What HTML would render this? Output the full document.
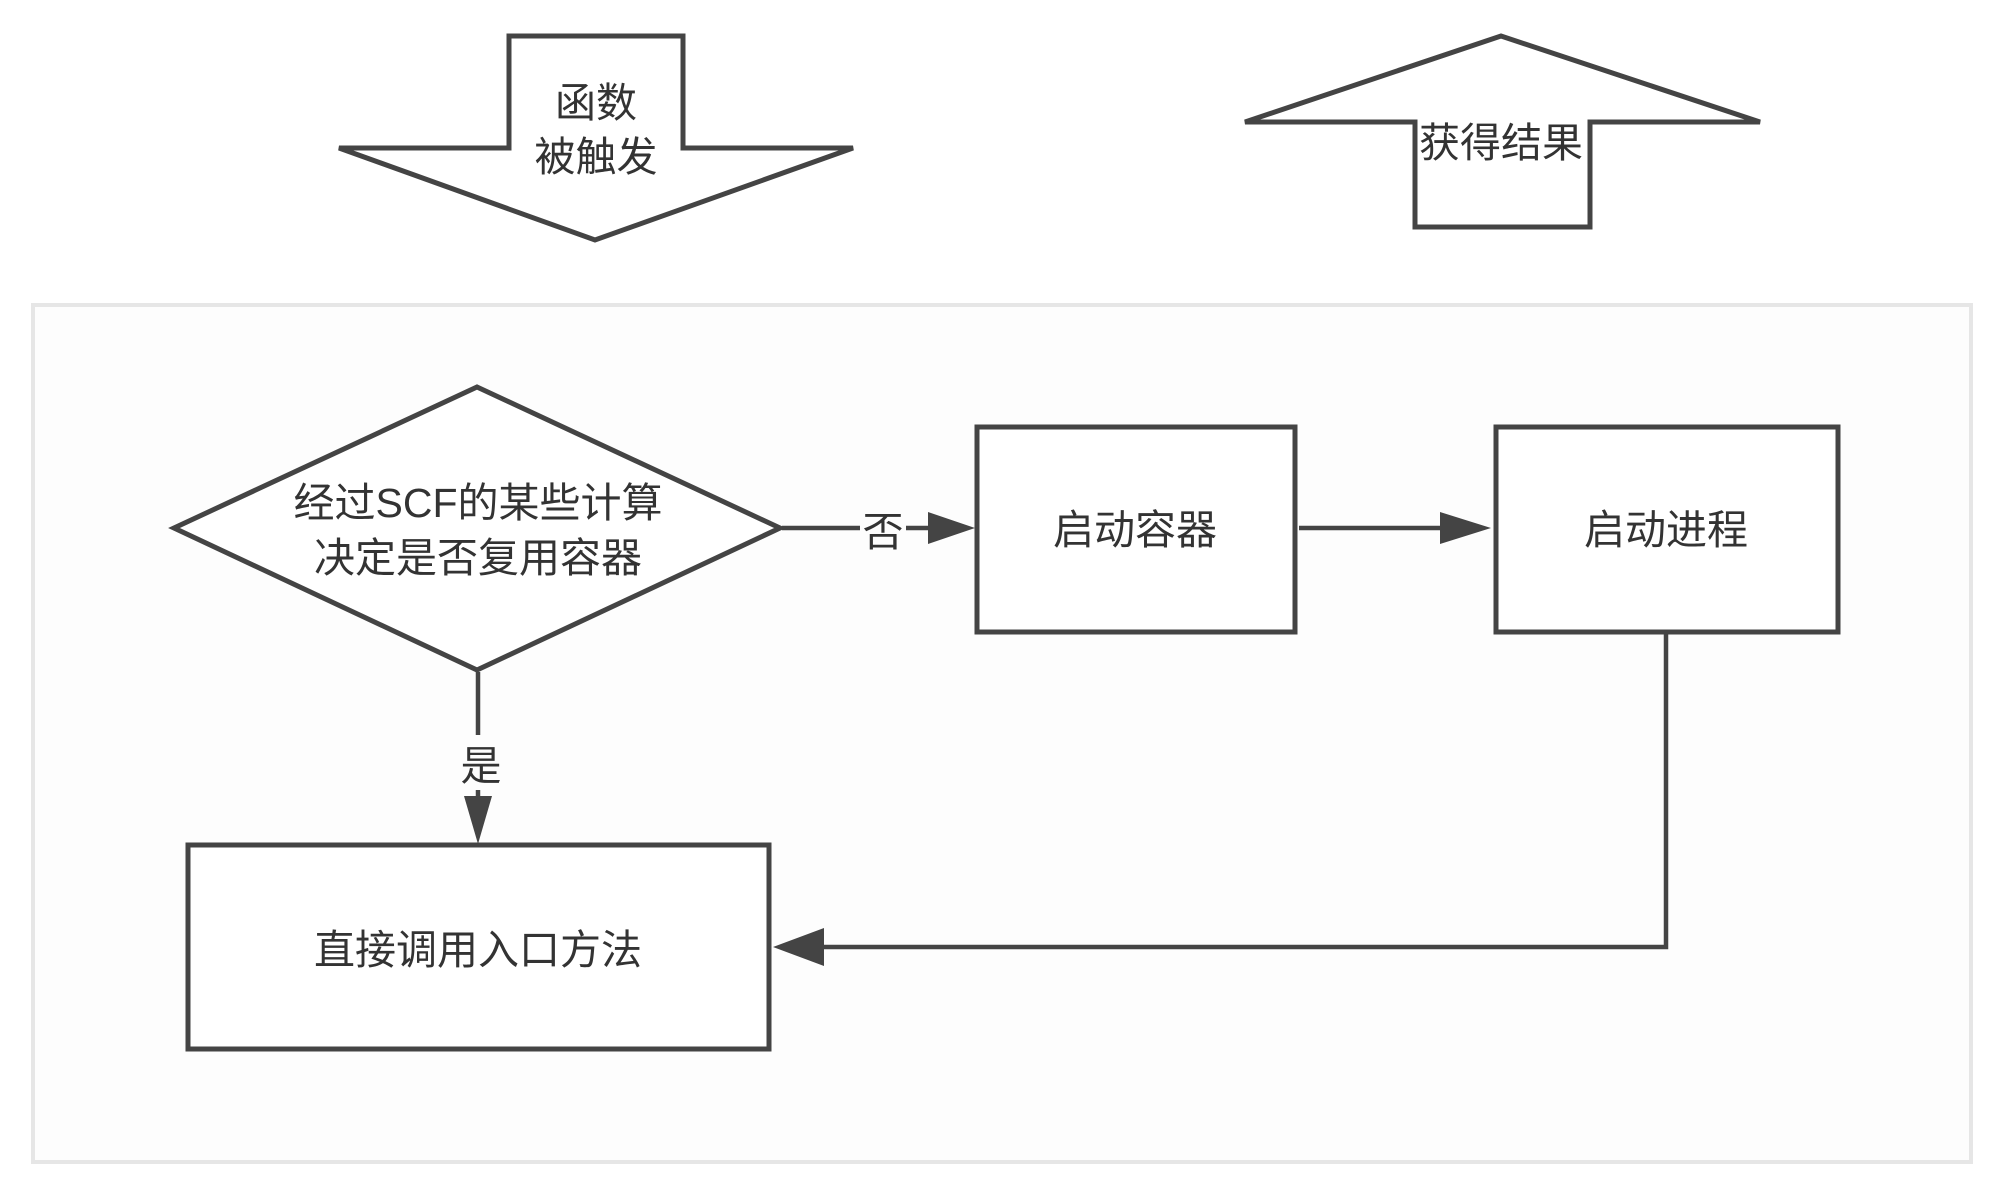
<!DOCTYPE html>
<html><head><meta charset="utf-8"><style>
html,body{margin:0;padding:0;background:#fff;}
svg text{font-family:"Liberation Sans","Noto Sans CJK SC",sans-serif;fill:#333;}
</style></head><body>
<svg width="2000" height="1188" viewBox="0 0 2000 1188" xmlns="http://www.w3.org/2000/svg">
<rect x="0" y="0" width="2000" height="1188" fill="#fff"/>
<rect x="33" y="305" width="1938" height="857" fill="#fdfdfd" stroke="#e6e6e6" stroke-width="4"/>
<g stroke="#444" stroke-width="5" fill="#fff" stroke-linejoin="miter">
<polygon points="509,36 683,36 683,148 853,148 595,240 339,148 509,148"/>
<polygon points="1501,36 1760,122 1590,122 1590,227 1415,227 1415,122 1245,122"/>
<polygon points="477,387 780,528 477,670 174,528"/>
<rect x="977" y="427" width="318" height="205"/>
<rect x="1496" y="427" width="342" height="205"/>
<rect x="188" y="845" width="581" height="204"/>
</g>
<g stroke="#444" stroke-width="4.5" fill="none">
<line x1="782" y1="528" x2="860" y2="528"/>
<line x1="906" y1="528" x2="932" y2="528"/>
<line x1="1299" y1="528" x2="1440" y2="528"/>
<line x1="478" y1="672" x2="478" y2="735"/>
<line x1="478" y1="790" x2="478" y2="800"/>
<polyline points="1666,632 1666,947 820,947"/>
</g>
<g fill="#444">
<polygon points="928,512 975,528 928,544"/>
<polygon points="1440,512 1491,528 1440,544"/>
<polygon points="464,796 492,796 478,844"/>
<polygon points="824,928 773,947 824,966"/>
</g>
<g font-size="41" text-anchor="middle" dominant-baseline="central">
<text x="596" y="103">函数</text>
<text x="596" y="157">被触发</text>
<text x="1501" y="143">获得结果</text>
<text x="478" y="503">经过SCF的某些计算</text>
<text x="478" y="558">决定是否复用容器</text>
<text x="1135" y="530">启动容器</text>
<text x="1666" y="530">启动进程</text>
<text x="478" y="950">直接调用入口方法</text>
<text x="883" y="532">否</text>
<text x="481" y="766">是</text>
</g>
</svg>
</body></html>
